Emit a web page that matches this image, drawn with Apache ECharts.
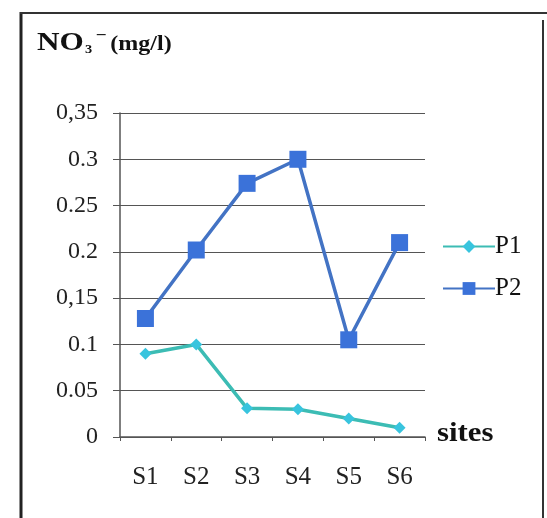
<!DOCTYPE html>
<html>
<head>
<meta charset="utf-8">
<script src="https://cdn.jsdelivr.net/npm/echarts@6/dist/echarts.min.js"></script>
<style>
  html, body { margin: 0; padding: 0; background: #fff; }
  #chart { width: 547px; height: 518px; }
</style>
</head>
<body>
<div id="chart"></div>
<script>
// Nitrate concentration at six sampling sites, two sampling periods
const sites = ['S1', 'S2', 'S3', 'S4', 'S5', 'S6'];
const p1 = [0.09, 0.10, 0.031, 0.03, 0.02, 0.01];
const p2 = [0.128, 0.202, 0.274, 0.30, 0.105, 0.21];
const yTickLabels = ['0', '0.05', '0.1', '0,15', '0.2', '0.25', '0.3', '0,35'];

const serif = '"Liberation Serif", "DejaVu Serif", serif';
const chart = echarts.init(document.getElementById('chart'));

chart.setOption({
  backgroundColor: '#ffffff',
  animation: false,
  grid: { left: 120, right: 122, top: 113, bottom: 81 },
  legend: {
    orient: 'vertical',
    left: 437, top: 229,
    itemWidth: 52, itemHeight: 16, itemGap: 17,
    textStyle: { fontFamily: serif, fontSize: 25, color: '#111', padding: [0, 0, 0, -5] },
    data: ['P1', 'P2']
  },
  xAxis: {
    type: 'category',
    data: sites,
    boundaryGap: true,
    axisLine: { lineStyle: { color: '#555', width: 1.5 } },
    axisTick: { show: true, length: 4, lineStyle: { color: '#555' } },
    axisLabel: { fontFamily: serif, fontSize: 25, color: '#222', margin: 28 }
  },
  yAxis: {
    type: 'value',
    min: 0, max: 0.35, interval: 0.05,
    axisLine: { show: true, lineStyle: { color: '#555', width: 1.5 } },
    axisTick: { show: true, length: 7, lineStyle: { color: '#555' } },
    splitLine: { lineStyle: { color: '#555', width: 1.2 } },
    axisLabel: {
      fontFamily: serif, fontSize: 24, color: '#222', margin: 22,
      formatter: (v) => yTickLabels[Math.round(v / 0.05)]
    }
  },
  graphic: [
    // page frame
    { type: 'line', shape: { x1: 21, y1: 12, x2: 21, y2: 518 }, style: { stroke: '#222', lineWidth: 3 } },
    { type: 'line', shape: { x1: 20, y1: 13, x2: 547, y2: 13 }, style: { stroke: '#333', lineWidth: 2 } },
    { type: 'line', shape: { x1: 543, y1: 20, x2: 543, y2: 518 }, style: { stroke: '#333', lineWidth: 2 } },
    // unit label above the value axis
    {
      type: 'text', x: 37, y: 28, scaleX: 1.2,
      style: {
        text: '{b|NO}{s|3}{u|−}{p|(mg/l)}',
        rich: {
          b: { fontFamily: serif, fontWeight: 'bold', fontSize: 26, fill: '#111', height: 30, verticalAlign: 'middle' },
          s: { fontFamily: serif, fontWeight: 'bold', fontSize: 12, fill: '#111', verticalAlign: 'bottom', padding: [0, 3, 2, 1] },
          u: { fontFamily: serif, fontWeight: 'bold', fontSize: 16, fill: '#111', verticalAlign: 'top', padding: [0, 3, 0, 0] },
          p: { fontFamily: serif, fontWeight: 'bold', fontSize: 20, fill: '#111', verticalAlign: 'middle', padding: [4, 0, 0, 0] }
        }
      }
    },
    // category axis name
    {
      type: 'text', x: 437, y: 420, scaleX: 1.1,
      style: { text: 'sites', font: 'bold 28px ' + serif, fill: '#111' }
    }
  ],
  series: [
    {
      name: 'P1', type: 'line', data: p1,
      symbol: 'diamond', symbolSize: 12,
      lineStyle: { color: '#3cbcb4', width: 3.5 },
      itemStyle: { color: '#38c4de' }
    },
    {
      name: 'P2', type: 'line', data: p2,
      symbol: 'rect', symbolSize: 17,
      lineStyle: { color: '#4373c4', width: 3.5 },
      itemStyle: { color: '#3b72d9' }
    }
  ]
});
</script>
</body>
</html>
